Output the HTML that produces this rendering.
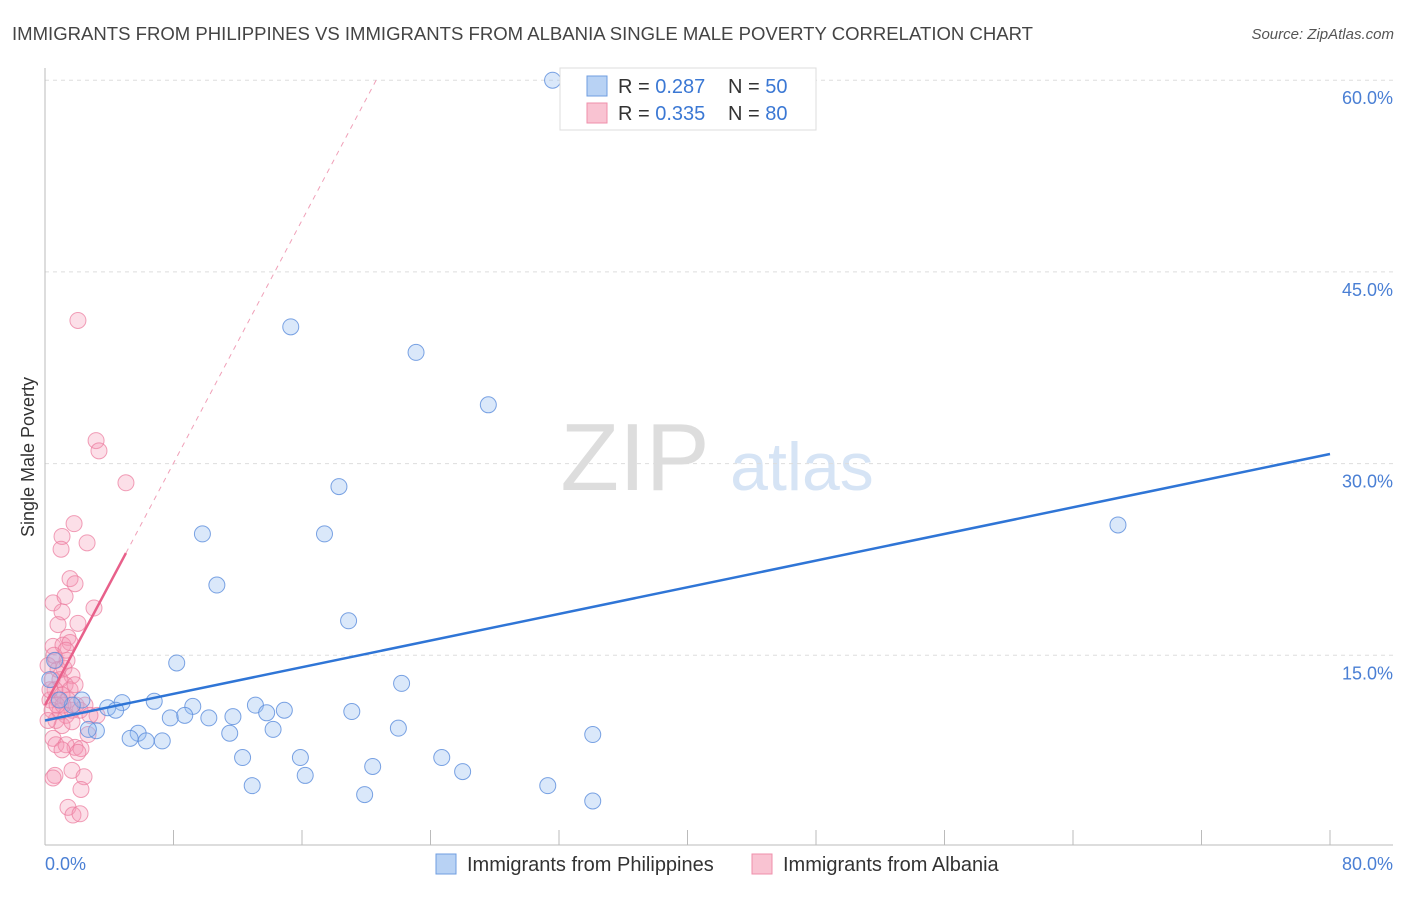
<!DOCTYPE html>
<html><head><meta charset="utf-8"><style>
body{margin:0;background:#fff;font-family:"Liberation Sans",sans-serif}
svg text{font-family:"Liberation Sans",sans-serif}
</style></head><body>
<svg id="chart" width="1406" height="892" xmlns="http://www.w3.org/2000/svg">
<text x="12" y="40" font-size="18.5" fill="#444" textLength="1021" lengthAdjust="spacingAndGlyphs">IMMIGRANTS FROM PHILIPPINES VS IMMIGRANTS FROM ALBANIA SINGLE MALE POVERTY CORRELATION CHART</text>
<text x="1394" y="39" font-size="15" fill="#555" font-style="italic" text-anchor="end">Source: ZipAtlas.com</text>
<g>
<text x="635" y="490" font-size="96" fill="#ddd" font-family="Liberation Serif" text-anchor="middle">ZIP</text>
<text x="802" y="490" font-size="68" fill="#d6e4f5" text-anchor="middle">atlas</text>
</g>
<g id="grid"></g>
<g id="axes"></g>
<g id="marks"></g>
<text transform="translate(34,457) rotate(-90)" font-size="18" fill="#333" text-anchor="middle">Single Male Poverty</text>
<g>
<rect x="560" y="68" width="256" height="62" fill="#fff" stroke="#ddd"/>
<rect x="587" y="76" width="20" height="20" fill="#b8d2f4" stroke="#6f9ee0"/>
<text x="618" y="93" font-size="20" fill="#333">R = <tspan fill="#3b78d4">0.287</tspan></text>
<text x="728" y="93" font-size="20" fill="#333">N = <tspan fill="#3b78d4">50</tspan></text>
<rect x="587" y="103" width="20" height="20" fill="#f9c3d2" stroke="#ef8fab"/>
<text x="618" y="120" font-size="20" fill="#333">R = <tspan fill="#3b78d4">0.335</tspan></text>
<text x="728" y="120" font-size="20" fill="#333">N = <tspan fill="#3b78d4">80</tspan></text>
</g>
<g>
<rect x="436" y="854" width="20" height="20" fill="#b8d2f4" stroke="#6f9ee0"/>
<text x="467" y="871" font-size="20" fill="#333">Immigrants from Philippines</text>
<rect x="752" y="854" width="20" height="20" fill="#f9c3d2" stroke="#ef8fab"/>
<text x="783" y="871" font-size="20" fill="#333">Immigrants from Albania</text>
</g>
</svg>
<script>
const yTicks=[15,30,45,60];
const yTickLabels=["15.0%","30.0%","45.0%","60.0%"];
const xTickLabels=["0.0%","80.0%"];
const blueX=[31.6,15.3,23.1,27.6,18.3,66.8,9.8,17.4,10.7,18.9,8.2,22.2,6.8,9.2,13.1,14.9,4.8,3.9,4.4,2.3,1.7,19.1,13.8,10.2,11.7,7.8,8.7,11.5,14.2,22.0,5.8,3.2,2.7,5.3,6.3,7.3,34.1,15.9,12.3,24.7,20.4,26.0,16.2,12.9,31.3,19.9,34.1,0.6,0.3,0.9];
const blueY=[60.0,40.7,38.7,34.6,28.2,25.2,24.5,24.5,20.5,17.7,14.4,12.8,11.4,11.0,11.1,10.7,11.3,10.9,10.7,11.5,11.1,10.6,10.5,10.1,10.2,10.1,10.3,8.9,9.2,9.3,8.9,9.1,9.2,8.5,8.3,8.3,8.8,7.0,7.0,7.0,6.3,5.9,5.6,4.8,4.8,4.1,3.6,14.6,13.1,11.5];
const pinkX=[2.05,3.18,3.36,5.04,1.81,1.06,2.62,1.0,1.56,1.87,0.5,3.05,1.25,1.06,2.05,0.81,0.5,1.43,1.12,1.56,0.68,1.18,1.68,0.44,0.93,1.25,0.62,1.56,1.87,0.31,0.81,1.06,1.43,0.44,0.93,1.31,1.68,0.68,2.18,3.24,1.06,1.68,0.5,2.68,0.68,1.87,1.31,2.24,1.06,2.05,1.68,0.62,2.43,0.5,2.24,1.43,1.74,2.18,0.31,0.19,0.81,1.12,0.75,1.37,0.19,0.56,1.31,1.93,2.49,2.8];
const pinkY=[41.2,31.8,31.0,28.5,25.3,24.3,23.8,23.3,21.0,20.6,19.1,18.7,19.6,18.4,17.5,17.4,15.7,16.4,15.8,16.0,14.6,14.0,13.4,13.1,13.1,12.7,12.3,12.3,12.7,11.5,11.5,11.9,11.5,10.7,10.6,10.3,10.7,9.9,10.7,10.3,9.5,9.8,8.5,8.8,8.0,7.8,8.0,7.7,7.6,7.4,6.0,5.6,5.5,5.4,4.5,3.1,2.5,2.6,12.3,9.9,13.9,11.1,11.1,14.6,14.2,15.0,15.4,11.1,11.1,10.3];
const blueLine=[[0,9.9],[80,30.75]];
const pinkSolid=[[0,11.1],[5.04,23.0]];
const pinkDashed=[[5.04,23.0],[20.7,60.2]];
const NS="http://www.w3.org/2000/svg";
const X=v=>45+v*1285/80, Y=v=>847-v*12.78;
function mk(parent,tag,attrs){const e=document.createElementNS(NS,tag);for(const k in attrs)e.setAttribute(k,attrs[k]);document.getElementById(parent).appendChild(e);return e;}
yTicks.forEach((t,i)=>{
 const g=mk('grid','line',{x1:45,x2:1393,y1:Y(t),y2:Y(t),stroke:'#ddd','stroke-dasharray':'4,4'});
 
 
 const l=mk('axes','text',{x:1393,y:Y(t)+24,'font-size':18,fill:'#4a7fd4','text-anchor':'end'});l.textContent=yTickLabels[i];
 
 
});
let a=mk('axes','line',{x1:45,x2:45,y1:68,y2:845,stroke:'#bbb'});


a=mk('axes','line',{x1:45,x2:1393,y1:845,y2:845,stroke:'#bbb'});


for(let i=0;i<=10;i++){const t=mk('axes','line',{x1:X(i*8),x2:X(i*8),y1:830,y2:845,stroke:'#bbb'});
 
 }
let xl=mk('axes','text',{x:45,y:870,'font-size':18,fill:'#4a7fd4'});xl.textContent=xTickLabels[0];


xl=mk('axes','text',{x:1393,y:870,'font-size':18,fill:'#4a7fd4','text-anchor':'end'});xl.textContent=xTickLabels[1];


pinkX.forEach((x,i)=>{const c=mk('marks','circle',{cx:X(x),cy:Y(pinkY[i]),r:8,fill:'rgba(245,150,180,0.3)',stroke:'rgba(235,120,155,0.7)'});
 
 });
blueX.forEach((x,i)=>{const c=mk('marks','circle',{cx:X(x),cy:Y(blueY[i]),r:8,fill:'rgba(150,190,240,0.35)',stroke:'rgba(90,140,220,0.8)'});
 
 });
let ln=mk('marks','line',{x1:X(pinkDashed[0][0]),y1:Y(pinkDashed[0][1]),x2:X(pinkDashed[1][0]),y2:Y(pinkDashed[1][1]),stroke:'#f0a0b8','stroke-dasharray':'5,5'});


ln=mk('marks','line',{x1:X(pinkSolid[0][0]),y1:Y(pinkSolid[0][1]),x2:X(pinkSolid[1][0]),y2:Y(pinkSolid[1][1]),stroke:'#e8608a','stroke-width':2.5});


ln=mk('marks','line',{x1:X(blueLine[0][0]),y1:Y(blueLine[0][1]),x2:X(blueLine[1][0]),y2:Y(blueLine[1][1]),stroke:'#2f75d6','stroke-width':2.5});


</script>
</body></html>
